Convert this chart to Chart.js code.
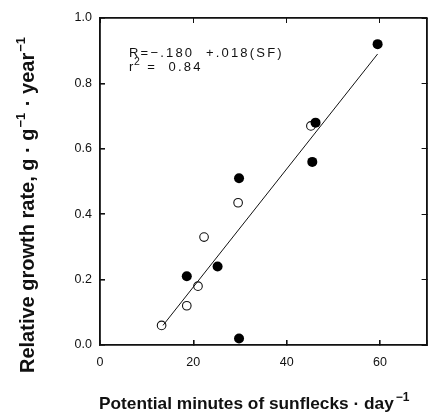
<!DOCTYPE html>
<html><head><meta charset="utf-8">
<script src="https://cdn.jsdelivr.net/npm/chart.js@4.4.1/dist/chart.umd.min.js"></script>
<style>
html,body{margin:0;padding:0;background:#fff;overflow:hidden;width:432px;height:413px}
#wrap{position:absolute;left:0;top:0;width:432px;height:413px}
#wrap canvas{display:block}
</style>
</head><body><div id="wrap"><canvas id="c"></canvas></div>
<script>
// Data
const filledX = [59.5, 46.2, 45.5, 29.8, 25.2, 18.6, 29.8];
const filledY = [0.92, 0.68, 0.56, 0.51, 0.24, 0.21, 0.02];
const openX = [45.2, 29.6, 22.3, 21.0, 18.6, 13.2];
const openY = [0.67, 0.435, 0.33, 0.18, 0.12, 0.06];
const fitX = [13.5, 59.5];
const fitY = [0.06, 0.89];
const xTicks = [0, 20, 40, 60];
const xMax = 70;
const yTicks = [0.0, 0.2, 0.4, 0.6, 0.8, 1.0];
const eqLine1 = "R=\u2212.180  +.018(SF)";
const eqLine2 = "r  =  0.84";
const xTitle = ["Potential minutes of sunflecks \u00B7 day", "\u22121"];
const yTitle = [["Relative growth rate, g \u00B7 g", false], ["\u22121", true], [" \u00B7 year", false], ["\u22121", true]];

const pts = (xs, ys) => xs.map((x, i) => ({x, y: ys[i]}));
const FONT = "'Liberation Sans', Arial, sans-serif";
const INK = '#111';
const CLEAR = 'rgba(0,0,0,0)';

const texts = {
  id: 'texts',
  afterDraw(chart) {
    const ctx = chart.ctx;
    ctx.save();
    ctx.fillStyle = INK;
    ctx.textBaseline = 'alphabetic';
    ctx.textAlign = 'left';
    ctx.font = '13px ' + FONT;
    ctx.letterSpacing = '2.2px';
    ctx.fillText(eqLine1, 129, 57);
    ctx.fillText(eqLine2, 129, 71);
    ctx.letterSpacing = '0px';
    ctx.font = '10.5px ' + FONT;
    ctx.fillText('2', 134, 65);

    ctx.font = 'bold 17.3px ' + FONT;
    const w1 = ctx.measureText(xTitle[0]).width;
    ctx.fillText(xTitle[0], 99, 409);
    ctx.font = 'bold 12px ' + FONT;
    ctx.fillText(xTitle[1], 99 + w1 + 2, 401);

    ctx.translate(34, 373);
    ctx.rotate(-Math.PI / 2);
    let cx = 0;
    yTitle.forEach(([t, sup]) => {
      ctx.font = (sup ? 'bold 13px ' : 'bold 20px ') + FONT;
      ctx.fillText(t, cx + (sup ? 1 : 0), sup ? -9 : 0);
      cx += ctx.measureText(t).width + (sup ? 2 : 0);
    });
    ctx.restore();
  }
};

const noPad = s => { s.paddingLeft = 0; s.paddingRight = 0; s.paddingTop = 0; s.paddingBottom = 0; };
const isEdge = (ctx, lo, hi) => ctx.tick && (ctx.tick.value === lo || ctx.tick.value === hi);
const frame = () => ({display: true, color: INK, width: 1.6});

new Chart(document.getElementById('c'), {
  type: 'scatter',
  data: {
    datasets: [
      {data: pts(fitX, fitY), showLine: true, borderColor: INK, borderWidth: 1, pointRadius: 0, fill: false},
      {data: pts(filledX, filledY), backgroundColor: '#000', borderColor: '#000', pointRadius: 5, borderWidth: 0},
      {data: pts(openX, openY), backgroundColor: '#fff', borderColor: INK, pointRadius: 4.3, borderWidth: 1.1}
    ]
  },
  options: {
    responsive: true, maintainAspectRatio: false, animation: false, devicePixelRatio: 1,
    layout: {padding: {top: 18, right: 1, left: 0, bottom: 0}},
    plugins: {legend: {display: false}, tooltip: {enabled: false}},
    scales: {
      x: {
        type: 'linear', position: 'bottom', min: 0, max: xMax,
        afterBuildTicks: s => { s.ticks = xTicks.concat([xMax]).map(v => ({value: v})); },
        afterFit: s => { s.height = 68; noPad(s); },
        grid: {display: true, drawOnChartArea: true, drawTicks: true, tickLength: -5,
               color: c => isEdge(c, 0, xMax) ? INK : CLEAR, tickColor: INK, lineWidth: 1.6},
        border: frame(),
        ticks: {color: INK, font: {size: 12.5, family: FONT}, padding: 15, maxRotation: 0,
                callback: v => (v === xMax ? '' : String(v))}
      },
      x2: {
        type: 'linear', position: 'top', min: 0, max: xMax,
        afterBuildTicks: s => { s.ticks = xTicks.map(v => ({value: v})); },
        afterFit: s => { s.height = 0; noPad(s); },
        grid: {display: true, drawOnChartArea: false, drawTicks: true, tickLength: -5, tickColor: INK, color: INK, lineWidth: 1},
        border: frame(),
        ticks: {display: false}
      },
      y: {
        type: 'linear', position: 'left', min: 0, max: 1,
        afterBuildTicks: s => { s.ticks = yTicks.map(v => ({value: v})); },
        afterFit: s => { s.width = 100; noPad(s); },
        grid: {display: true, drawOnChartArea: true, drawTicks: true, tickLength: -5,
               color: c => isEdge(c, 0, 1) ? INK : CLEAR, tickColor: INK, lineWidth: 1.6},
        border: frame(),
        ticks: {color: INK, font: {size: 12.5, family: FONT}, padding: 13, callback: v => v.toFixed(1)}
      },
      y2: {
        type: 'linear', position: 'right', min: 0, max: 1,
        afterBuildTicks: s => { s.ticks = yTicks.map(v => ({value: v})); },
        afterFit: s => { s.width = 0; noPad(s); },
        grid: {display: true, drawOnChartArea: false, drawTicks: true, tickLength: -5, tickColor: INK, color: INK, lineWidth: 1},
        border: frame(),
        ticks: {display: false}
      }
    }
  },
  plugins: [texts]
});
</script></body></html>
